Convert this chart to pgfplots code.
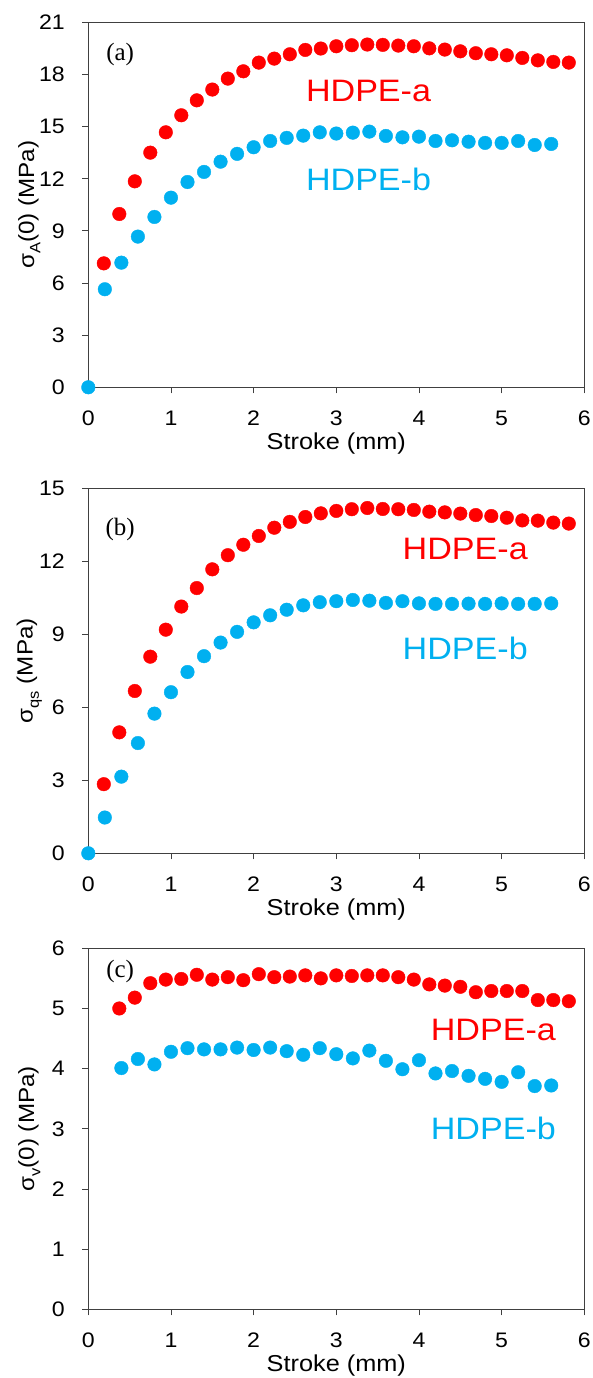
\documentclass[border=0pt]{standalone}
\usepackage{pgfplots}
\pgfplotsset{compat=1.18}
\usepackage{fontspec}
\setmainfont{Liberation Sans}[FakeStretch=1.1]
\newfontfamily\timesfont{Liberation Serif}
\definecolor{hred}{RGB}{255,0,0}
\definecolor{hblue}{RGB}{0,176,240}
\newcommand{\sub}[1]{\raisebox{-0.28em}{\fontsize{15}{15}\selectfont #1}}
\tikzset{
  lab/.style={font=\timesfont\fontsize{25}{25}\selectfont},
  hlab/.style={font=\fontsize{31}{31}\selectfont},
}
\pgfplotsset{
  panel/.style={
    scale only axis, width=496pt,
    xmin=0, xmax=6, xtick={0,1,2,3,4,5,6},
    tick align=outside, xtick pos=bottom, ytick pos=left,
    major tick length=6pt,
    axis line style={black!75, line width=0.9pt},
    tick style={black!75, line width=0.9pt},
    ticklabel style={font=\fontsize{21}{21}\selectfont},
    /pgf/number format/assume math mode=true,
    xticklabel style={yshift=-14pt},
    yticklabel style={xshift=-14pt},
    every axis x label/.style={at={(rel axis cs:0.5,0)}, yshift=-56pt, anchor=center, font=\fontsize{23}{23}\selectfont},
    every axis y label/.style={at={(rel axis cs:0,0.5)}, xshift=-59pt, rotate=90, anchor=center, font=\fontsize{22}{22}\selectfont},
    xlabel={Stroke (mm)},
    only marks,
  },
  redm/.style={mark=*, mark size=6.8pt, color=hred},
  bluem/.style={mark=*, mark size=6.8pt, color=hblue},
}
\begin{document}
\begin{tikzpicture}[x=1pt,y=1pt]
\useasboundingbox (0,0) rectangle (592,1378);
% Panel (a)
\begin{axis}[panel, at={(88.3pt,990.7pt)}, anchor=south west, height=365pt,
  ymin=0, ymax=21, ytick={0,3,...,21},
  ylabel={σ\sub{A}(0) (MPa)}]
\addplot[redm] coordinates {
(0.1875,7.13)(0.375,9.97)(0.5625,11.85)(0.75,13.5)(0.9375,14.67)(1.125,15.65)(1.3125,16.51)(1.5,17.13)(1.6875,17.76)(1.875,18.18)(2.0625,18.68)(2.25,18.91)(2.4375,19.16)(2.625,19.41)(2.8125,19.49)(3.0,19.62)(3.1875,19.68)(3.375,19.72)(3.5625,19.70)(3.75,19.66)(3.9375,19.62)(4.125,19.5)(4.3125,19.43)(4.5,19.33)(4.6875,19.22)(4.875,19.16)(5.0625,19.1)(5.25,18.95)(5.4375,18.81)(5.625,18.72)(5.8125,18.68)};
\addplot[bluem] coordinates {
(0,0)(0.2,5.64)(0.4,7.17)(0.6,8.67)(0.8,9.80)(1.0,10.91)(1.2,11.81)(1.4,12.39)(1.6,12.98)(1.8,13.43)(2.0,13.81)(2.2,14.17)(2.4,14.35)(2.6,14.48)(2.8,14.67)(3.0,14.6)(3.2,14.65)(3.4,14.71)(3.6,14.46)(3.8,14.38)(4.0,14.42)(4.2,14.17)(4.4,14.21)(4.6,14.13)(4.8,14.06)(5.0,14.06)(5.2,14.17)(5.4,13.94)(5.6,14.0)};
\node[lab] at (axis cs:0.385,19.12) {(a)};
\node[text=hred, hlab] at (axis cs:3.39,17.05) {HDPE-a};
\node[text=hblue, hlab] at (axis cs:3.39,11.95) {HDPE-b};
\end{axis}
% Panel (b)
\begin{axis}[panel, at={(88.3pt,524.7pt)}, anchor=south west, height=365pt,
  ymin=0, ymax=15, ytick={0,3,...,15},
  ylabel={σ\sub{qs} (MPa)}]
\addplot[redm] coordinates {
(0.1875,2.84)(0.375,4.97)(0.5625,6.67)(0.75,8.08)(0.9375,9.19)(1.125,10.14)(1.3125,10.90)(1.5,11.67)(1.6875,12.25)(1.875,12.68)(2.0625,13.04)(2.25,13.38)(2.4375,13.62)(2.625,13.82)(2.8125,13.97)(3.0,14.07)(3.1875,14.14)(3.375,14.19)(3.5625,14.15)(3.75,14.14)(3.9375,14.11)(4.125,14.04)(4.3125,14.01)(4.5,13.96)(4.6875,13.90)(4.875,13.86)(5.0625,13.79)(5.25,13.68)(5.4375,13.67)(5.625,13.59)(5.8125,13.55)};
\addplot[bluem] coordinates {
(0,0)(0.2,1.47)(0.4,3.15)(0.6,4.53)(0.8,5.74)(1.0,6.62)(1.2,7.45)(1.4,8.10)(1.6,8.66)(1.8,9.10)(2.0,9.49)(2.2,9.78)(2.4,10.01)(2.6,10.19)(2.8,10.32)(3.0,10.36)(3.2,10.41)(3.4,10.38)(3.6,10.29)(3.8,10.36)(4.0,10.27)(4.2,10.25)(4.4,10.25)(4.6,10.26)(4.8,10.25)(5.0,10.27)(5.2,10.25)(5.4,10.25)(5.6,10.27)};
\node[lab] at (axis cs:0.385,13.29) {(b)};
\node[text=hred, hlab] at (axis cs:4.56,12.49) {HDPE-a};
\node[text=hblue, hlab] at (axis cs:4.56,8.42) {HDPE-b};
\end{axis}
% Panel (c)
\begin{axis}[panel, at={(88.3pt,68.7pt)}, anchor=south west, height=361pt,
  ymin=0, ymax=6, ytick={0,1,...,6},
  ylabel={σ\sub{v}(0) (MPa)}]
\addplot[redm] coordinates {
(0.375,5.00)(0.5625,5.18)(0.75,5.42)(0.9375,5.48)(1.125,5.49)(1.3125,5.56)(1.5,5.48)(1.6875,5.52)(1.875,5.47)(2.0625,5.57)(2.25,5.52)(2.4375,5.53)(2.625,5.55)(2.8125,5.50)(3.0,5.55)(3.1875,5.54)(3.375,5.55)(3.5625,5.55)(3.75,5.52)(3.9375,5.48)(4.125,5.40)(4.3125,5.38)(4.5,5.36)(4.6875,5.27)(4.875,5.29)(5.0625,5.29)(5.25,5.29)(5.4375,5.14)(5.625,5.14)(5.8125,5.12)};
\addplot[bluem] coordinates {
(0.4,4.01)(0.6,4.16)(0.8,4.07)(1.0,4.28)(1.2,4.34)(1.4,4.32)(1.6,4.32)(1.8,4.35)(2.0,4.31)(2.2,4.35)(2.4,4.29)(2.6,4.23)(2.8,4.34)(3.0,4.24)(3.2,4.17)(3.4,4.30)(3.6,4.13)(3.8,3.99)(4.0,4.14)(4.2,3.92)(4.4,3.96)(4.6,3.88)(4.8,3.83)(5.0,3.78)(5.2,3.94)(5.4,3.71)(5.6,3.72)};
\node[lab] at (axis cs:0.385,5.61) {(c)};
\node[text=hred, hlab] at (axis cs:4.90,4.65) {HDPE-a};
\node[text=hblue, hlab] at (axis cs:4.90,3.01) {HDPE-b};
\end{axis}
\end{tikzpicture}
\end{document}
